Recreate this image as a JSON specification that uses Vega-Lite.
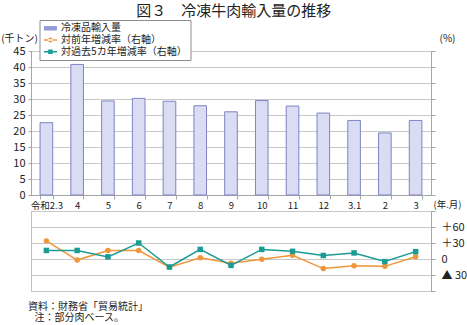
{
  "$schema": "https://vega.github.io/schema/vega-lite/v6.json",
  "background": "white",
  "padding": {"left": 0, "top": 4, "right": 0, "bottom": 0},
  "title": {"text": "図３　冷凍牛肉輸入量の推移", "fontSize": 15, "fontWeight": "normal", "anchor": "middle", "color": "#222", "offset": 0},
  "config": {
    "font": "Noto Sans CJK JP",
    "view": {"stroke": "#bfbfbf"},
    "axis": {"labelColor": "#222", "titleColor": "#222", "domainColor": "#a6a6a6", "tickColor": "#a6a6a6", "gridColor": "#c8c8c8", "titleFontWeight": "normal"},
    "legend": {"orient": "none", "legendX": 8.5, "legendY": -31, "title": null, "labelFontSize": 10, "labelColor": "#222", "symbolSize": 100, "rowPadding": 1.7, "labelOffset": 5.7, "symbolOffset": 2.6, "padding": 3.3, "strokeColor": "#8c8c8c", "fillColor": "white", "symbolOpacity": 1, "symbolStrokeWidth": 0}
  },
  "datasets": {
    "bars": [
      {"m": "令和2.3", "series": "冷凍品輸入量", "v": 22.6},
      {"m": "4", "series": "冷凍品輸入量", "v": 40.8},
      {"m": "5", "series": "冷凍品輸入量", "v": 29.4},
      {"m": "6", "series": "冷凍品輸入量", "v": 30.2},
      {"m": "7", "series": "冷凍品輸入量", "v": 29.3},
      {"m": "8", "series": "冷凍品輸入量", "v": 27.9},
      {"m": "9", "series": "冷凍品輸入量", "v": 26.0},
      {"m": "10", "series": "冷凍品輸入量", "v": 29.5},
      {"m": "11", "series": "冷凍品輸入量", "v": 27.8},
      {"m": "12", "series": "冷凍品輸入量", "v": 25.6},
      {"m": "3.1", "series": "冷凍品輸入量", "v": 23.3},
      {"m": "2", "series": "冷凍品輸入量", "v": 19.4},
      {"m": "3", "series": "冷凍品輸入量", "v": 23.3}
    ],
    "lines": [
      {"m": "令和2.3", "series": "対前年増減率（右軸）", "v": 34},
      {"m": "4", "series": "対前年増減率（右軸）", "v": -2},
      {"m": "5", "series": "対前年増減率（右軸）", "v": 16},
      {"m": "6", "series": "対前年増減率（右軸）", "v": 16},
      {"m": "7", "series": "対前年増減率（右軸）", "v": -15.5},
      {"m": "8", "series": "対前年増減率（右軸）", "v": 2.5},
      {"m": "9", "series": "対前年増減率（右軸）", "v": -8},
      {"m": "10", "series": "対前年増減率（右軸）", "v": -0.5},
      {"m": "11", "series": "対前年増減率（右軸）", "v": 7},
      {"m": "12", "series": "対前年増減率（右軸）", "v": -18},
      {"m": "3.1", "series": "対前年増減率（右軸）", "v": -12.6},
      {"m": "2", "series": "対前年増減率（右軸）", "v": -13.8},
      {"m": "3", "series": "対前年増減率（右軸）", "v": 4.2},
      {"m": "令和2.3", "series": "対過去5カ年増減率（右軸）", "v": 16},
      {"m": "4", "series": "対過去5カ年増減率（右軸）", "v": 16},
      {"m": "5", "series": "対過去5カ年増減率（右軸）", "v": 4},
      {"m": "6", "series": "対過去5カ年増減率（右軸）", "v": 30},
      {"m": "7", "series": "対過去5カ年増減率（右軸）", "v": -15},
      {"m": "8", "series": "対過去5カ年増減率（右軸）", "v": 18},
      {"m": "9", "series": "対過去5カ年増減率（右軸）", "v": -12},
      {"m": "10", "series": "対過去5カ年増減率（右軸）", "v": 18},
      {"m": "11", "series": "対過去5カ年増減率（右軸）", "v": 14.4},
      {"m": "12", "series": "対過去5カ年増減率（右軸）", "v": 6.6},
      {"m": "3.1", "series": "対過去5カ年増減率（右軸）", "v": 11.4},
      {"m": "2", "series": "対過去5カ年増減率（右軸）", "v": -4.8},
      {"m": "3", "series": "対過去5カ年増減率（右軸）", "v": 13.8}
    ]
  },
  "spacing": 0,
  "resolve": {"scale": {"color": "shared"}, "legend": {"color": "independent", "shape": "independent"}},
  "vconcat": [
    {
      "width": 400,
      "height": 144,
      "layer": [
        {
          "data": {"name": "bars"},
          "mark": {"type": "bar", "fill": "#d9dcf3", "stroke": "#7e84c2", "strokeWidth": 1},
          "encoding": {
            "x": {"field": "m", "type": "nominal",
              "scale": {"domain": ["令和2.3","4","5","6","7","8","9","10","11","12","3.1","2","3"], "paddingInner": 0.59, "paddingOuter": 0.295},
              "axis": {"labelAngle": 0, "labelFontSize": 9.5, "labelPadding": 1, "tickSize": 4, "tickBand": "extent", "title": "(年.月)", "titleFontSize": 9.5, "titleX": 416, "titleY": 9.5, "titleBaseline": "middle", "titleAlign": "center"}},
            "y": {"field": "v", "type": "quantitative", "scale": {"domain": [0, 45]},
              "axis": {"values": [0,5,10,15,20,25,30,35,40,45], "labelFontSize": 11, "labelPadding": 3, "tickSize": 3, "grid": true, "title": "(千トン)", "titleAngle": 0, "titleFontSize": 10, "titleX": -12, "titleY": -13, "titleAlign": "center", "titleBaseline": "middle"}},
            "color": {"field": "series", "type": "nominal",
              "scale": {"domain": ["冷凍品輸入量", "対前年増減率（右軸）", "対過去5カ年増減率（右軸）"], "range": ["#959bd6", "#f0963a", "#1a9b94"]},
              "legend": {"orient": "none", "legendX": 8.5, "legendY": -31, "title": null, "strokeColor": "#8c8c8c", "fillColor": "white", "padding": 3.3, "symbolOpacity": 1, "symbolStrokeWidth": 0}}
          }
        },
        {
          "data": {"name": "bars"},
          "mark": {"type": "bar", "opacity": 0},
          "encoding": {
            "x": {"field": "m", "type": "nominal"},
            "y": {"field": "v", "type": "quantitative", "scale": {"domain": [0, 45]},
              "axis": {"orient": "right", "values": [0,5,10,15,20,25,30,35,40,45], "labels": false, "grid": false, "tickSize": 4, "title": "(%)", "titleAngle": 0, "titleFontSize": 10, "titleX": 16, "titleY": -13, "titleAlign": "center", "titleBaseline": "middle"}}
          }
        },
        {
          "data": {"name": "lines"},
          "mark": {"type": "point", "filled": true, "opacity": 0, "size": 28},
          "encoding": {
            "x": {"field": "m", "type": "nominal"},
            "y": {"datum": 0, "axis": null},
            "color": {"field": "series", "type": "nominal"},
            "shape": {"field": "series", "type": "nominal",
              "scale": {"domain": ["冷凍品輸入量", "対前年増減率（右軸）", "対過去5カ年増減率（右軸）"],
                "range": ["M-1.3,-0.45H1.3V0.45H-1.3Z", "M-1.3,-0.15H1.3V0.15H-1.3Z M-0.5,0A0.5,0.5 0 1,0 0.5,0A0.5,0.5 0 1,0 -0.5,0Z", "M-1.3,-0.15H1.3V0.15H-1.3Z M-0.45,-0.45H0.45V0.45H-0.45Z"]},
              "legend": {"orient": "none", "legendX": 8.5, "legendY": -31, "title": null, "strokeColor": "#8c8c8c", "fillColor": "white", "padding": 3.3, "symbolOpacity": 1, "symbolStrokeWidth": 0}}
          }
        }
      ],
      "resolve": {"scale": {"y": "independent"}, "axis": {"y": "independent"}}
    },
    {
      "width": 400,
      "height": 80,
      "data": {"name": "lines"},
      "title": {"text": "注：部分肉ベース。", "orient": "bottom", "anchor": "start", "frame": "group", "fontSize": 10, "fontWeight": "normal", "color": "#222", "offset": 1.5, "dx": 3.6},
      "encoding": {
        "x": {"field": "m", "type": "nominal",
          "scale": {"domain": ["令和2.3","4","5","6","7","8","9","10","11","12","3.1","2","3"], "paddingInner": 0.59, "paddingOuter": 0.295},
          "axis": {"labels": false, "ticks": false, "domain": false, "title": "資料：財務省「貿易統計」", "titleFontSize": 10, "titleX": -3.6, "titleY": 15, "titleAlign": "left", "titleAnchor": "start", "titleBaseline": "middle"}},
        "y": {"field": "v", "type": "quantitative", "scale": {"domain": [-60, 90]},
          "axis": {"orient": "right", "values": [-60,-30,0,30,60,90], "grid": true, "tickSize": 4, "labelPadding": 6, "labelFontSize": 11, "title": null, "domain": true,
            "labelExpr": "datum.value == 60 ? '＋60' : datum.value == 30 ? '＋30' : datum.value == 0 ? '0' : datum.value == -30 ? '▲ 30' : ''"}},
        "color": {"field": "series", "type": "nominal", "legend": null}
      },
      "layer": [
        {
          "mark": {"type": "rule", "color": "#000", "strokeWidth": 1.5},
          "encoding": {"y": {"datum": 0}, "color": {"value": "#000"}}
        },
        {
          "mark": {"type": "line", "strokeWidth": 1.5}
        },
        {
          "transform": [{"filter": "datum.series === '対前年増減率（右軸）'"}],
          "mark": {"type": "point", "shape": "circle", "filled": true, "opacity": 1, "size": 30}
        },
        {
          "transform": [{"filter": "datum.series === '対過去5カ年増減率（右軸）'"}],
          "mark": {"type": "point", "shape": "square", "filled": true, "opacity": 1, "size": 30}
        }
      ]
    }
  ]
}
